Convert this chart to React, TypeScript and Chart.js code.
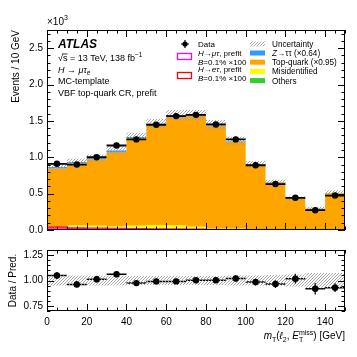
import React, { useEffect, useRef } from 'react';
import { Chart, registerables } from 'chart.js';
Chart.register(...registerables);

const FONT = '"Liberation Sans", Arial, Helvetica, sans-serif';

const binEdges = [0, 10, 20, 30, 40, 50, 60, 70, 80, 90, 100, 110, 120, 130, 140, 150];
const dataCounts = [910, 900, 1000, 1162, 1246, 1447, 1566, 1583, 1451, 1246, 890, 632, 443, 272, 474];
const zttValues = [20, 20, 18, 20, 18, 15, 15, 12, 12, 10, 8, 6, 5, 4, 6];
const topQuarkValues = [814, 853, 912, 1026, 1203, 1377, 1502, 1523, 1407, 1194, 883, 638, 423, 285, 497];
const misidValues = [30, 60, 55, 45, 55, 65, 60, 40, 25, 15, 10, 8, 5, 5, 5];
const otherValues = [3, 3, 3, 3, 3, 3, 3, 3, 3, 3, 3, 3, 2, 2, 2];
const sigMuTauValues = [25, 28, 25, 22, 18, 15, 12, 10, 8, 6, 5, 4, 3, 2, 2];
const sigETauValues = [40, 20, 15, 12, 10, 8, 7, 6, 5, 4, 3, 3, 2, 2, 2];
const uncRel = [0.05, 0.05, 0.05, 0.05, 0.045, 0.045, 0.045, 0.045, 0.045, 0.05, 0.05, 0.055, 0.06, 0.075, 0.075];

const mainYTicks = [0, 500, 1000, 1500, 2000, 2500];
const ratioYTicks = [0.75, 1.0, 1.25];
const xTickStep = 20;

const COLORS = {
  ztt: '#3399ff',
  top: '#ffa500',
  misid: '#ffff00',
  others: '#33cc33',
  muTau: '#ff00ff',
  eTau: '#ff0000',
  hatch: '#a0a0a0',
};

const centers = binEdges.slice(0, -1).map((e, i) => (e + binEdges[i + 1]) / 2);

function stepPts(vals: number[]) {
  return binEdges.map((e, i) => ({ x: e, y: vals[Math.min(i, vals.length - 1)] }));
}
function addArr(a: number[], b: number[]) {
  return a.map((v, i) => v + b[i]);
}
function xBars(vals: number[]) {
  const pts: any[] = [];
  vals.forEach((v, i) => {
    pts.push({ x: binEdges[i], y: v }, { x: binEdges[i + 1], y: v }, { x: binEdges[i + 1], y: null });
  });
  return pts;
}
function yBars(vals: number[], errs: number[]) {
  const pts: any[] = [];
  vals.forEach((v, i) => {
    pts.push({ x: centers[i], y: v - errs[i] }, { x: centers[i], y: v + errs[i] }, { x: centers[i], y: null });
  });
  return pts;
}

function makeHatch(): CanvasPattern | string {
  const c = document.createElement('canvas');
  c.width = 3;
  c.height = 3;
  const g = c.getContext('2d');
  if (!g) return COLORS.hatch;
  g.strokeStyle = COLORS.hatch;
  g.lineWidth = 0.9;
  g.beginPath();
  g.moveTo(0, 3); g.lineTo(3, 0);
  g.moveTo(-1, 1); g.lineTo(1, -1);
  g.moveTo(2, 4); g.lineTo(4, 2);
  g.stroke();
  return g.createPattern(c, 'repeat') || COLORS.hatch;
}

type Part = { t: string; it?: boolean; b?: boolean; s?: number; dy?: number; keep?: boolean; over?: boolean };
function rich(ctx: CanvasRenderingContext2D, x: number, y: number, parts: Part[], base: number, align: 'left' | 'right' = 'left') {
  const f = (p: Part) => `${p.it ? 'italic ' : ''}${p.b ? 'bold ' : ''}${p.s ?? base}px ${FONT}`;
  let w = 0;
  for (const p of parts) {
    ctx.font = f(p);
    if (!p.keep) w += ctx.measureText(p.t).width;
  }
  let cx = align === 'right' ? x - w : x;
  ctx.textAlign = 'left';
  ctx.textBaseline = 'alphabetic';
  for (const p of parts) {
    ctx.font = f(p);
    const pw = ctx.measureText(p.t).width;
    ctx.fillText(p.t, cx, y + (p.dy || 0));
    if (p.over) {
      const s = p.s ?? base;
      ctx.beginPath();
      ctx.lineWidth = 0.8;
      ctx.moveTo(cx - 1, y - s * 0.78);
      ctx.lineTo(cx + pw, y - s * 0.78);
      ctx.stroke();
    }
    if (!p.keep) cx += pw;
  }
}

function frameTicks(id: string, yMinor: number[], yMajor: (v: number) => boolean) {
  return {
    id,
    afterDraw(chart: any) {
      const { ctx, chartArea } = chart;
      const { left, right, top, bottom } = chartArea;
      const xs = chart.scales.x;
      const ys = chart.scales.y;
      ctx.save();
      ctx.strokeStyle = '#000';
      ctx.lineWidth = 1;
      ctx.beginPath();
      for (let v = 0; v <= 150; v += 5) {
        const px = Math.round(xs.getPixelForValue(v)) + 0.5;
        const len = v % xTickStep === 0 ? 7 : 3.5;
        ctx.moveTo(px, bottom); ctx.lineTo(px, bottom - len);
        ctx.moveTo(px, top); ctx.lineTo(px, top + len);
      }
      for (const v of yMinor) {
        const py = Math.round(ys.getPixelForValue(v)) + 0.5;
        const len = yMajor(v) ? 7 : 3.5;
        ctx.moveTo(left, py); ctx.lineTo(left + len, py);
        ctx.moveTo(right, py); ctx.lineTo(right - len, py);
      }
      ctx.stroke();
      ctx.strokeRect(Math.round(left) + 0.5, Math.round(top) + 0.5, Math.round(right - left) - 1, Math.round(bottom - top) - 1);
      ctx.restore();
    },
  };
}

const LEG_L = 8;
const LEG_R = 8.2;

const mainTextPlugin = (hatch: any) => ({
  id: 'mainText',
  afterDraw(chart: any) {
    const ctx: CanvasRenderingContext2D = chart.ctx;
    ctx.save();
    ctx.fillStyle = '#000';
    ctx.strokeStyle = '#000';
    rich(ctx, 47, 25, [{ t: '×10' }, { t: '3', s: 7, dy: -5 }], 10);
    rich(ctx, 58, 48, [{ t: 'ATLAS', b: true, it: true }], 12);
    rich(ctx, 58, 61, [{ t: '√' }, { t: 's', over: true }, { t: ' = 13 TeV, 138 fb' }, { t: '−1', s: 6.5, dy: -4 }], 9);
    rich(ctx, 58, 72.5, [{ t: 'H', it: true }, { t: ' → ' }, { t: 'μτ', it: true }, { t: 'e', it: true, s: 6.5, dy: 2 }], 9);
    rich(ctx, 58, 84, [{ t: 'MC-template' }], 9);
    rich(ctx, 58, 95.5, [{ t: 'VBF top-quark CR, prefit' }], 9);

    // legend left column
    ctx.lineWidth = 1.2;
    ctx.beginPath();
    ctx.moveTo(181, 44); ctx.lineTo(189, 44);
    ctx.moveTo(185, 40); ctx.lineTo(185, 48);
    ctx.stroke();
    ctx.beginPath();
    ctx.arc(185, 44, 2.6, 0, Math.PI * 2);
    ctx.fill();
    rich(ctx, 198, 47, [{ t: 'Data' }], LEG_L);

    ctx.lineWidth = 1.3;
    ctx.strokeStyle = COLORS.muTau;
    ctx.strokeRect(177.5, 53.5, 14, 6);
    ctx.strokeStyle = COLORS.eTau;
    ctx.strokeRect(177.5, 72.5, 14, 6);
    ctx.strokeStyle = '#000';
    rich(ctx, 198, 56, [{ t: 'H', it: true }, { t: '→' }, { t: 'μτ', it: true }, { t: ', prefit' }], LEG_L);
    rich(ctx, 198, 64.5, [{ t: 'B', it: true }, { t: '=0.1% ×100' }], LEG_L);
    rich(ctx, 198, 72, [{ t: 'H', it: true }, { t: '→' }, { t: 'eτ', it: true }, { t: ', prefit' }], LEG_L);
    rich(ctx, 198, 80.5, [{ t: 'B', it: true }, { t: '=0.1% ×100' }], LEG_L);

    // legend right column
    const boxes: [any, number, Part[]][] = [
      [hatch, 44, [{ t: 'Uncertainty' }]],
      [COLORS.ztt, 53, [{ t: 'Z', it: true }, { t: '→ττ (×0.64)' }]],
      [COLORS.top, 62.2, [{ t: 'Top-quark (×0.95)' }]],
      [COLORS.misid, 71.4, [{ t: 'Misidentified' }]],
      [COLORS.others, 80.6, [{ t: 'Others' }]],
    ];
    for (const [col, cy, parts] of boxes) {
      ctx.fillStyle = col;
      ctx.fillRect(250, cy - 2.5, 15, 5);
      ctx.fillStyle = '#000';
      rich(ctx, 272, cy + 3, parts, LEG_R);
    }
    ctx.restore();
  },
});

const ratioTextPlugin = {
  id: 'ratioText',
  afterDraw(chart: any) {
    const ctx: CanvasRenderingContext2D = chart.ctx;
    ctx.save();
    ctx.fillStyle = '#000';
    rich(ctx, 345, 99, [
      { t: 'm', it: true },
      { t: 'T', s: 7, dy: 2.5 },
      { t: '(' },
      { t: 'ℓ', it: true },
      { t: '2', s: 7, dy: 2.5 },
      { t: ', ' },
      { t: 'E', it: true },
      { t: 'T', s: 7, dy: 2.5, keep: true },
      { t: 'miss', s: 7, dy: -4 },
      { t: ') [GeV]' },
    ], 10, 'right');
    ctx.restore();
  },
};

export default function App() {
  const mainRef = useRef<HTMLCanvasElement>(null);
  const ratioRef = useRef<HTMLCanvasElement>(null);

  useEffect(() => {
    if (!mainRef.current || !ratioRef.current) return;
    const hatch = makeHatch();

    const cOthers = otherValues;
    const cMisid = addArr(cOthers, misidValues);
    const cTop = addArr(cMisid, topQuarkValues);
    const cZtt = addArr(cTop, zttValues);
    const pred = cZtt;
    const uncLo = pred.map((p, i) => p * (1 - uncRel[i]));
    const uncHi = pred.map((p, i) => p * (1 + uncRel[i]));
    const dataErr = dataCounts.map((d) => Math.sqrt(d));
    const ratio = dataCounts.map((d, i) => d / pred[i]);
    const ratioErr = dataCounts.map((d, i) => Math.sqrt(d) / pred[i]);
    const rLo = uncRel.map((u) => 1 - u);
    const rHi = uncRel.map((u) => 1 + u);

    const fillDs = (label: string, vals: number[], color: string, fill: any) => ({
      label,
      data: stepPts(vals),
      stepped: 'before',
      borderWidth: 0,
      borderColor: 'rgba(0,0,0,0)',
      backgroundColor: color,
      pointRadius: 0,
      fill,
      order: 10,
    });

    const baseOpts: any = {
      animation: false,
      responsive: false,
      maintainAspectRatio: false,
      events: [],
      plugins: { legend: { display: false }, tooltip: { enabled: false } },
    };

    const main = new Chart(mainRef.current, {
      type: 'line',
      data: {
        datasets: [
          fillDs('Others', cOthers, COLORS.others, 'origin'),
          fillDs('Misidentified', cMisid, COLORS.misid, '-1'),
          fillDs('Top-quark', cTop, COLORS.top, '-1'),
          fillDs('Ztautau', cZtt, COLORS.ztt, '-1'),
          { label: 'uncLo', data: stepPts(uncLo), stepped: 'before', borderWidth: 0, borderColor: 'rgba(0,0,0,0)', pointRadius: 0, fill: false, order: 5 },
          { label: 'uncHi', data: stepPts(uncHi), stepped: 'before', borderWidth: 0, borderColor: 'rgba(0,0,0,0)', backgroundColor: hatch, pointRadius: 0, fill: 4, order: 5 },
          { label: 'H→μτ', data: stepPts(sigMuTauValues), stepped: 'before', borderWidth: 1.3, borderColor: COLORS.muTau, pointRadius: 0, fill: false, order: 4 },
          { label: 'H→eτ', data: stepPts(sigETauValues), stepped: 'before', borderWidth: 1.3, borderColor: COLORS.eTau, pointRadius: 0, fill: false, order: 4 },
          { label: 'xbars', data: xBars(dataCounts), borderWidth: 1.8, borderColor: '#000', pointRadius: 0, fill: false, spanGaps: false, order: 3 },
          { label: 'ybars', data: yBars(dataCounts, dataErr), borderWidth: 1.2, borderColor: '#000', pointRadius: 0, fill: false, spanGaps: false, order: 2 },
          { label: 'Data', data: dataCounts.map((d, i) => ({ x: centers[i], y: d })), showLine: false, pointRadius: 3.2, pointBackgroundColor: '#000', pointBorderColor: '#000', pointBorderWidth: 0, order: 1 },
        ] as any,
      },
      options: {
        ...baseOpts,
        layout: { padding: { left: 0, right: 12, top: 30, bottom: 2 } },
        scales: {
          x: { type: 'linear', min: 0, max: 150, display: false },
          y: {
            type: 'linear',
            min: 0,
            max: 2750,
            afterFit: (s: any) => { s.width = 47; },
            afterBuildTicks: (s: any) => { s.ticks = mainYTicks.map((v) => ({ value: v })); },
            ticks: { callback: (v: any) => (Number(v) / 1000).toFixed(1), font: { size: 10, family: FONT }, color: '#000', padding: 4 },
            grid: { display: false, drawTicks: false },
            border: { display: false },
            title: { display: true, text: 'Events / 10 GeV', align: 'end', font: { size: 10, family: FONT }, color: '#000', padding: { top: 10, bottom: 0 } },
          },
        },
      } as any,
      plugins: [
        frameTicks('mainFrame', Array.from({ length: 28 }, (_, k) => k * 100), (v) => v % 500 === 0),
        mainTextPlugin(hatch),
      ],
    });

    const ratioChart = new Chart(ratioRef.current, {
      type: 'line',
      data: {
        datasets: [
          { label: 'xbars', data: xBars(ratio), borderWidth: 1.5, borderColor: '#000', pointRadius: 0, fill: false, spanGaps: false, order: 6 },
          { label: 'rLo', data: stepPts(rLo), stepped: 'before', borderWidth: 0, borderColor: 'rgba(0,0,0,0)', pointRadius: 0, fill: false, order: 5 },
          { label: 'rHi', data: stepPts(rHi), stepped: 'before', borderWidth: 0, borderColor: 'rgba(0,0,0,0)', backgroundColor: hatch, pointRadius: 0, fill: 1, order: 5 },
          { label: 'ybars', data: yBars(ratio, ratioErr), borderWidth: 1.2, borderColor: '#000', pointRadius: 0, fill: false, spanGaps: false, order: 2 },
          { label: 'ratio', data: ratio.map((r, i) => ({ x: centers[i], y: r })), showLine: false, pointRadius: 3.2, pointBackgroundColor: '#000', pointBorderColor: '#000', pointBorderWidth: 0, order: 1 },
        ] as any,
      },
      options: {
        ...baseOpts,
        layout: { padding: { left: 0, right: 12, top: 2, bottom: 0 } },
        scales: {
          x: {
            type: 'linear',
            min: 0,
            max: 150,
            afterFit: (s: any) => { s.height = 46; },
            ticks: { stepSize: xTickStep, includeBounds: false, autoSkip: false, maxRotation: 0, callback: (v: any) => (Number(v) % xTickStep === 0 ? String(v) : ''), font: { size: 10, family: FONT }, color: '#000', padding: 5 },
            grid: { display: false, drawTicks: false },
            border: { display: false },
          },
          y: {
            type: 'linear',
            min: 0.7,
            max: 1.3,
            afterFit: (s: any) => { s.width = 47; },
            afterBuildTicks: (s: any) => { s.ticks = ratioYTicks.map((v) => ({ value: v })); },
            ticks: { callback: (v: any) => Number(v).toFixed(2), font: { size: 10, family: FONT }, color: '#000', padding: 4 },
            grid: { display: false, drawTicks: false },
            border: { display: false },
            title: { display: true, text: 'Data / Pred.', align: 'center', font: { size: 10, family: FONT }, color: '#000', padding: { top: 7, bottom: 0 } },
          },
        },
      } as any,
      plugins: [
        frameTicks('ratioFrame', Array.from({ length: 13 }, (_, k) => 0.7 + k * 0.05), (v) => [0.75, 1.0, 1.25].some((m) => Math.abs(m - v) < 1e-6)),
        ratioTextPlugin,
      ],
    });

    return () => {
      main.destroy();
      ratioChart.destroy();
    };
  }, []);

  return (
    <div style={{ position: 'fixed', left: 0, top: 0, width: 357, height: 357, background: '#fff' }}>
      <canvas ref={mainRef} width={357} height={240} style={{ position: 'absolute', left: 0, top: 0, width: 357, height: 240 }} />
      <canvas ref={ratioRef} width={357} height={117} style={{ position: 'absolute', left: 0, top: 240, width: 357, height: 117 }} />
    </div>
  );
}
